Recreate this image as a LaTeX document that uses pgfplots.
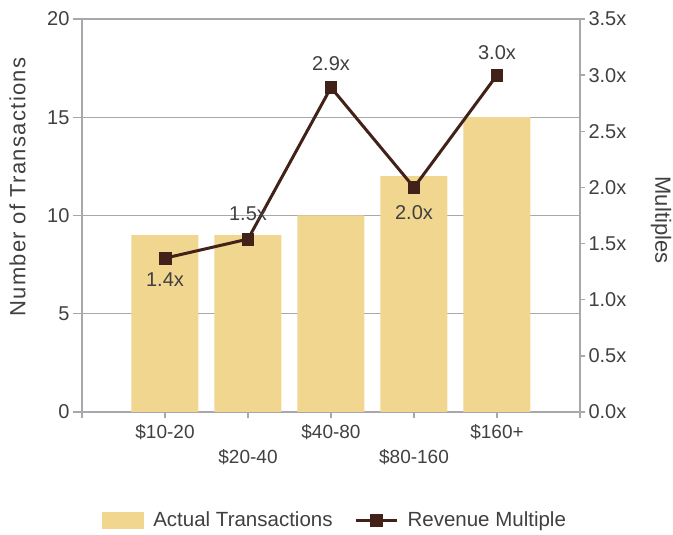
\documentclass[border=0pt]{standalone}
\usepackage{pgfplots}
\pgfplotsset{compat=1.18}
\usepackage{pgfplotstable}
\usepackage{fontspec}
\setmainfont{Liberation Sans}
\definecolor{barc}{RGB}{240,214,142}
\definecolor{linec}{RGB}{66,34,24}
\definecolor{txt}{RGB}{64,64,64}
\definecolor{axc}{RGB}{168,168,172}

\pgfplotstableread{
x n
1 9
2 9
3 10
4 12
5 15
}\bardata
\pgfplotstableread{
x m lab dy
1 1.37 1.4x -21
2 1.54 1.5x 25
3 2.89 2.9x 24
4 2.00 2.0x -25
5 3.00 3.0x 23
}\linedata

\pgfplotsset{
  linelegend/.style={legend image code/.code={\path (-22pt,0pt) (50pt,0pt); \draw[mark repeat=2,mark phase=2,##1] plot coordinates {(0pt,0pt) (20.5pt,0pt) (41pt,0pt)};}},
  common/.style={
    at={(82pt,123pt)}, anchor=south west, scale only axis,
    width=498pt, height=393pt,
    xmin=0, xmax=6,
    /pgf/number format/assume math mode=true,
    axis line style={draw=axc, line width=1.3pt},
    tick align=outside,
    tick style={draw=axc, line width=1.3pt},
    tick label style={text=txt, font=\fontsize{20}{24}\selectfont},
  }
}

\begin{document}
\begin{tikzpicture}
\path[use as bounding box] (0,0) rectangle (673pt,535pt);
\begin{axis}[common,
  ymin=0, ymax=20,
  axis x line*=bottom, axis y line*=left,
  major tick length=9pt,
  xtick style={/pgfplots/major tick length=6pt},
  xtick={1,3,5}, xticklabels={\$10-20,\$40-80,\$160+},
  extra x ticks={0,2,4,6}, extra x tick labels={,\$20-40,\$80-160,},
  extra x tick style={xticklabel style={yshift=-25pt}},
  xticklabel style={font=\fontsize{19}{23}\selectfont},
  ytick={0,5,10,15,20},
  ymajorgrids, major grid style={draw=axc, line width=1.3pt},
]
\addplot[ybar, bar width=67pt, fill=barc, draw=none] table[x=x,y=n]{\bardata};
\end{axis}
\begin{axis}[common,
  ymin=0, ymax=3.5,
  axis y line*=right, axis x line=none,
  major tick length=5pt,
  ytick={0,0.5,1,1.5,2,2.5,3,3.5},
  yticklabel={\pgfmathprintnumber[fixed,fixed zerofill,precision=1]{\tick}x},
  legend columns=2,
  legend style={at={(axis description cs:0.040,-0.275)}, anchor=west,
    draw=none, fill=none, inner sep=0pt, outer sep=0pt, column sep=0pt,
    font=\fontsize{20.5}{24}\selectfont, text=txt, nodes={inner sep=0pt}},
]
\addlegendimage{legend image code/.code={\fill[barc] (0pt,-8pt) rectangle (41pt,8pt); \path (51pt,0pt);}}
\addlegendentry{Actual Transactions}
\addplot[linec, line width=3pt, mark=square*, mark size=5.8pt,
  mark options={solid, line width=0.6pt},
  linelegend,
  nodes near coords, point meta=explicit symbolic,
  visualization depends on={\thisrow{dy} \as \dy},
  every node near coord/.append style={anchor=center, yshift=\dy pt, text=txt, font=\fontsize{20}{24}\selectfont}]
  table[x=x,y=m,meta=lab]{\linedata};
\addlegendentry{Revenue Multiple}
\end{axis}
\node[rotate=90, text=txt, font=\fontsize{22}{26}\selectfont\addfontfeature{LetterSpace=6}] at (17.5pt,348pt) {Number of Transactions};
\node[rotate=-90, text=txt, font=\fontsize{22}{26}\selectfont] at (661pt,315pt) {Multiples};
\end{tikzpicture}
\end{document}
